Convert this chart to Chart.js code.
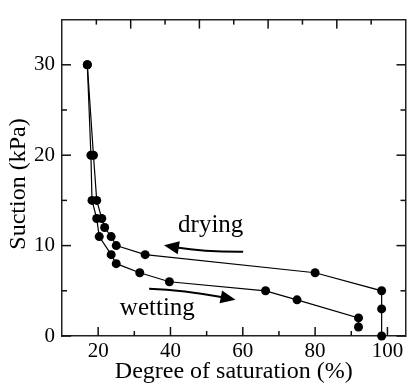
<!DOCTYPE html>
<html>
<head>
<meta charset="utf-8">
<script src="https://cdn.jsdelivr.net/npm/chart.js@4.4.1/dist/chart.umd.min.js"></script>
<style>
  html, body { margin: 0; padding: 0; background: #fff; }
  canvas { display: block; }
</style>
</head>
<body>
<canvas id="swcc" width="410" height="387"></canvas>
<script>
// wetting path (lower curve)
var wetX = [17, 18.0, 18.3, 19.6, 20.3, 23.6, 25.0, 31.5, 39.7, 66.3, 75.0, 92.0, 92.0];
var wetY = [30, 20, 15, 13, 11, 9, 8, 7, 6, 5, 4, 2, 1];
// drying path (upper curve)
var dryX = [98.4, 98.4, 98.4, 80.0, 33.0, 25.0, 23.6, 21.8, 21.0, 19.6, 18.7, 17];
var dryY = [0, 3, 5, 7, 9, 10, 11, 12, 13, 15, 20, 30];

// ticks
var xMajor = [20, 40, 60, 80, 100];
var xMinor = [30, 50, 70, 90];
var topMajor = [20, 40, 60, 80];
var topMinor = [10, 30, 50, 70, 90];
var yMajor = [0, 10, 20, 30];
var yMinor = [5, 15, 25];

var serif = "'Liberation Serif', 'Times New Roman', serif";

function toPoints(xs, ys) {
    return xs.map(function (x, i) { return { x: x, y: ys[i] }; });
}

function setTicks(list) {
    return function (scale) {
        scale.ticks = list.slice().sort(function (a, b) { return a - b; })
            .map(function (v) { return { value: v }; });
    };
}

function drawArrow(ctx, p0, c, tip, headLen, headW) {
    var dx = tip.x - c.x, dy = tip.y - c.y;
    var d = Math.sqrt(dx * dx + dy * dy);
    dx /= d; dy /= d;
    var bx = tip.x - dx * headLen, by = tip.y - dy * headLen;
    ctx.beginPath();
    ctx.moveTo(p0.x, p0.y);
    ctx.quadraticCurveTo(c.x, c.y, bx + dx * 2, by + dy * 2);
    ctx.stroke();
    ctx.beginPath();
    ctx.moveTo(tip.x, tip.y);
    ctx.lineTo(bx - dy * headW / 2, by + dx * headW / 2);
    ctx.lineTo(bx + dy * headW / 2, by - dx * headW / 2);
    ctx.closePath();
    ctx.fill();
}

var decor = {
    id: 'decor',
    // inward tick marks on all four sides
    beforeDatasetsDraw: function (chart) {
        var ctx = chart.ctx, a = chart.chartArea, s = chart.scales;
        ctx.save();
        ctx.fillStyle = '#111';
        function vTicks(scale, vals, len, edge, dir) {
            vals.forEach(function (v) {
                var p = scale.getPixelForValue(v);
                var y0 = dir < 0 ? edge - len : edge;
                ctx.fillRect(p - 0.75, y0, 1.5, len);
            });
        }
        function hTicks(scale, vals, len, edge, dir) {
            vals.forEach(function (v) {
                var p = scale.getPixelForValue(v);
                var x0 = dir < 0 ? edge - len : edge;
                ctx.fillRect(x0, p - 0.75, len, 1.5);
            });
        }
        vTicks(s.x, xMajor, 9, a.bottom, -1);
        vTicks(s.x, xMinor, 5, a.bottom, -1);
        vTicks(s.x2, topMajor, 9, a.top, 1);
        vTicks(s.x2, topMinor, 5, a.top, 1);
        hTicks(s.y, yMajor, 9, a.left, 1);
        hTicks(s.y, yMinor, 5, a.left, 1);
        hTicks(s.y2, yMajor, 9, a.right, -1);
        hTicks(s.y2, yMinor, 5, a.right, -1);
        ctx.restore();
    },
    // arrows, annotations, y title
    afterDraw: function (chart) {
        var ctx = chart.ctx, s = chart.scales;
        ctx.save();
        ctx.fillStyle = '#000';
        ctx.strokeStyle = '#000';
        ctx.lineWidth = 2;
        function P(x, y) { return { x: s.x.getPixelForValue(x), y: s.y.getPixelForValue(y) }; }
        drawArrow(ctx, P(60.1, 9.33), P(49.1, 9.31), P(38.2, 10.03), 15, 13);
        drawArrow(ctx, P(34.1, 5.24), P(43.7, 5.1), P(58.0, 4.01), 15, 13);

        ctx.font = '25px ' + serif;
        ctx.textAlign = 'left';
        ctx.textBaseline = 'alphabetic';
        var t1 = P(42.1, 11.5);
        ctx.fillText('drying', t1.x, t1.y);
        var t2 = P(26.0, 2.34);
        ctx.fillText('wetting', t2.x, t2.y);

        ctx.font = '24px ' + serif;
        ctx.translate(19, 184);
        ctx.rotate(-Math.PI / 2);
        ctx.textAlign = 'center';
        ctx.textBaseline = 'middle';
        ctx.fillText('Suction (kPa)', 0, 0);
        ctx.restore();
    }
};

var line = {
    showLine: true,
    borderColor: '#000',
    backgroundColor: '#000',
    borderWidth: 1.2,
    pointRadius: 4.5,
    pointHoverRadius: 4.5,
    pointBorderWidth: 0,
    pointBackgroundColor: '#000',
    pointBorderColor: '#000',
    clip: false
};

var ctx = document.getElementById('swcc').getContext('2d');
var swcc = new Chart(ctx, {
    type: 'scatter',
    data: {
        datasets: [
            Object.assign({ label: 'wetting', data: toPoints(wetX, wetY) }, line),
            Object.assign({ label: 'drying', data: toPoints(dryX, dryY) }, line)
        ]
    },
    options: {
        responsive: false,
        animation: false,
        devicePixelRatio: 1,
        layout: { padding: 0 },
        plugins: {
            legend: { display: false },
            tooltip: { enabled: false },
            colors: { enabled: false }
        },
        scales: {
            x: {
                type: 'linear', position: 'bottom', min: 10, max: 105,
                afterBuildTicks: setTicks(xMajor.concat(xMinor)),
                afterFit: function (sc) { sc.height = 51; },
                grid: { drawOnChartArea: false, drawTicks: false },
                border: { color: '#222', width: 1.5 },
                ticks: {
                    padding: 3, color: '#000', font: { family: serif, size: 21 },
                    callback: function (v) { return xMajor.indexOf(v) >= 0 ? String(v) : ''; }
                },
                title: {
                    display: true, text: 'Degree of saturation (%)', color: '#000',
                    font: { family: serif, size: 24 }, padding: { top: 0, bottom: 1 }
                }
            },
            x2: {
                type: 'linear', position: 'top', min: 0, max: 100,
                afterBuildTicks: setTicks(topMajor.concat(topMinor)),
                afterFit: function (sc) { sc.height = 7; },
                grid: { drawOnChartArea: false, drawTicks: false },
                border: { color: '#222', width: 1.5 },
                ticks: { display: false }
            },
            y: {
                type: 'linear', position: 'left', min: 0, max: 35,
                afterBuildTicks: setTicks(yMajor.concat(yMinor)),
                afterFit: function (sc) { sc.width = 62; },
                grid: { drawOnChartArea: false, drawTicks: false },
                border: { color: '#222', width: 1.5 },
                ticks: {
                    padding: 7, color: '#000', font: { family: serif, size: 21 },
                    callback: function (v) { return yMajor.indexOf(v) >= 0 ? String(v) : ''; }
                }
            },
            y2: {
                type: 'linear', position: 'right', min: 0, max: 35,
                afterBuildTicks: setTicks(yMajor.concat(yMinor)),
                afterFit: function (sc) { sc.width = 1; },
                grid: { drawOnChartArea: false, drawTicks: false },
                border: { color: '#222', width: 1.5 },
                ticks: { display: false }
            }
        }
    },
    plugins: [decor]
});
</script>
</body>
</html>
